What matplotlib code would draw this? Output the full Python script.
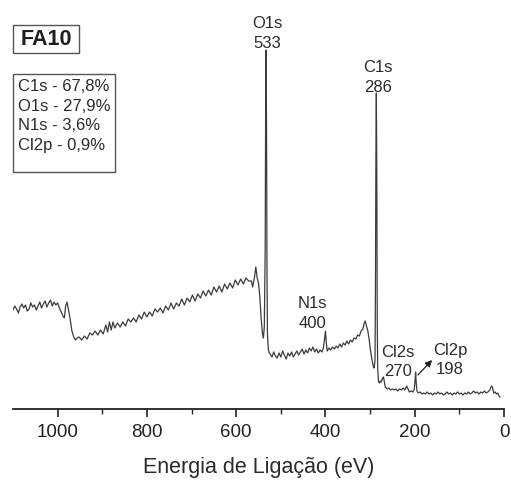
import matplotlib
matplotlib.use("Agg")
import matplotlib.pyplot as plt
from matplotlib.patches import Rectangle

# XPS survey spectrum of sample FA10 (binding energy in eV, intensity in a.u.)
energy = [
    1100, 1096, 1092, 1088, 1084, 1080, 1076, 1072, 1068, 1064, 1060, 1056,
    1052, 1048, 1044, 1040, 1036, 1032, 1028, 1024, 1020, 1016, 1012, 1008,
    1004, 1000, 996, 992, 988, 985, 982, 979, 976, 972, 968, 964, 960, 956,
    952, 946, 940, 934, 928, 922, 916, 910, 904, 898, 892, 888, 884, 880,
    876, 872, 866, 860, 854, 848, 842, 836, 830, 824, 818, 812, 806, 800,
    794, 788, 782, 776, 770, 764, 758, 752, 746, 740, 734, 728, 722, 716,
    710, 704, 698, 692, 686, 680, 674, 668, 662, 656, 650, 644, 638, 632,
    626, 620, 614, 608, 602, 596, 590, 584, 578, 572, 566, 563, 559, 556,
    553, 550, 547, 544, 541, 539, 537, 535, 534, 533, 532, 531, 530, 528,
    526, 524, 520, 516, 512, 508, 504, 500, 496, 492, 488, 484, 480, 476,
    472, 468, 464, 460, 456, 452, 448, 444, 440, 436, 432, 428, 424, 420,
    416, 412, 408, 405, 402, 400, 398, 396, 392, 388, 384, 380, 376, 372,
    368, 364, 360, 356, 352, 348, 344, 340, 336, 332, 328, 324, 320, 316,
    313, 311, 308, 305, 302, 299, 296, 293, 291, 289, 288, 287, 286, 285,
    284, 283, 281, 279, 277, 275, 272, 270, 268, 266, 262, 258, 254, 250,
    246, 242, 238, 234, 230, 226, 222, 218, 215, 212, 208, 204, 201, 199,
    198, 197, 195, 192, 188, 184, 180, 176, 172, 168, 164, 160, 156, 152,
    148, 144, 140, 136, 132, 128, 124, 120, 116, 112, 108, 104, 100, 96,
    92, 88, 84, 80, 76, 72, 68, 64, 60, 56, 52, 48, 44, 40, 36, 32, 28, 26,
    23, 20, 17, 14, 11, 9,
]
intensity = [
    99, 103, 100, 96, 102, 105, 101, 104, 98, 100, 106, 102,
    104, 99, 103, 107, 101, 105, 108, 102, 106, 109, 103, 107,
    104, 106, 101, 97, 93, 91, 103, 107, 100, 90, 78, 72, 69, 71,
    72, 69, 73, 70, 76, 74, 78, 74, 79, 75, 84, 77, 87, 79,
    87, 81, 86, 82, 87, 83, 90, 87, 91, 87, 94, 90, 97, 92,
    97, 93, 100, 97, 101, 96, 103, 99, 106, 100, 106, 103, 110, 104,
    111, 107, 114, 108, 115, 111, 118, 113, 119, 114, 122, 117, 123, 117,
    125, 120, 126, 121, 129, 124, 130, 125, 131, 128, 128, 122, 132, 142,
    131, 126, 112, 90, 75, 71, 82, 160, 300, 359, 280, 140, 75, 60,
    56, 55, 52, 57, 53, 51, 56, 52, 58, 54, 50, 56, 53, 57,
    52, 55, 58, 54, 57, 60, 55, 59, 56, 61, 58, 62, 57, 60,
    56, 59, 57, 60, 70, 78, 66, 58, 61, 59, 62, 60, 63, 61,
    65, 62, 66, 64, 68, 65, 69, 67, 71, 70, 74, 73, 78, 80,
    86, 88, 83, 78, 69, 58, 50, 43, 41, 48, 120, 250, 316, 240,
    90, 40, 27, 26, 28, 27, 31, 32, 27, 22, 20, 21, 19, 20,
    19, 20, 18, 20, 19, 21, 19, 23, 20, 17, 18, 17, 20, 30,
    37, 28, 18, 16, 17, 15, 16, 15, 17, 15, 16, 14, 16, 15,
    17, 15, 16, 14, 15, 17, 15, 16, 14, 16, 15, 17, 15, 16,
    14, 16, 15, 17, 15, 16, 18, 16, 17, 15, 17, 16, 18, 16, 17, 19, 23, 22,
    16, 17, 15, 16, 13, 12,
]

# Peak labels: name, binding energy, label position (eV, a.u.)
peak_names = ["O1s", "C1s", "N1s", "Cl2s", "Cl2p"]
peak_energies = [533, 286, 400, 270, 198]
label_x = [531, 283, 430, 238, 121]
label_y = [358.5, 314.5, 78.5, 29.5, 31.5]

composition = ["C1s - 67,8%", "O1s - 27,9%", "N1s - 3,6%", "Cl2p - 0,9%"]
sample_name = "FA10"

x_ticks = [1000, 800, 600, 400, 200, 0]
x_label = "Energia de Ligação (eV)"

plt.rcParams["font.family"] = ["Liberation Sans", "DejaVu Sans"]
text_color = "#2b2b2b"

W, H = 511, 480
fig = plt.figure(figsize=(W / 100, H / 100), dpi=100)
ax = fig.add_axes([13 / W, 71 / H, 491 / W, 399 / H])

ax.plot(energy, intensity, color="#3c3c3c", lw=0.9)

ax.set_xlim(1100, 0)
ax.set_ylim(0, 399)
ax.set_xticks(x_ticks)
ax.set_xticks([900, 700, 500, 300, 100], minor=True)
ax.set_yticks([])
for side in ("left", "right", "top"):
    ax.spines[side].set_visible(False)
ax.spines["bottom"].set_linewidth(1.3)
ax.spines["bottom"].set_color("#222222")
ax.tick_params(axis="x", which="major", direction="out", length=6, width=1.2,
               labelsize=13.5, colors="#222222", pad=5)
ax.tick_params(axis="x", which="minor", direction="out", length=3.5, width=1.0,
               colors="#222222")
ax.set_xlabel(x_label, fontsize=15.5, color=text_color, labelpad=11)
ax.patch.set_alpha(0)

for name, e, lx, ly in zip(peak_names, peak_energies, label_x, label_y):
    ax.text(lx, ly, f"{name}\n{e}", ha="center", va="bottom", fontsize=12,
            color=text_color, linespacing=1.38, clip_on=False)

# Arrow from the Cl2p peak towards its label
ax.annotate("", xy=(161, 49), xytext=(193, 34),
            arrowprops=dict(arrowstyle="-|>", color="#222222", lw=0.9,
                            mutation_scale=10, shrinkA=0, shrinkB=0))

# Sample name box
fig.patches.append(Rectangle((13 / W, 1 - 53 / H), 66 / W, 28 / H,
                             transform=fig.transFigure, fill=False,
                             edgecolor="#555555", lw=1.0))
fig.text(46 / W, 1 - 39.5 / H, sample_name, ha="center", va="center",
         fontsize=15.5, fontweight="bold", color="#1e1e1e")

# Surface composition box
fig.patches.append(Rectangle((13 / W, 1 - 172 / H), 102 / W, 98 / H,
                             transform=fig.transFigure, fill=False,
                             edgecolor="#555555", lw=1.0))
fig.text(18 / W, 1 - 79 / H, "\n".join(composition), ha="left", va="top",
         fontsize=12, color=text_color, linespacing=1.38)

fig.savefig("out.png", dpi=100)
